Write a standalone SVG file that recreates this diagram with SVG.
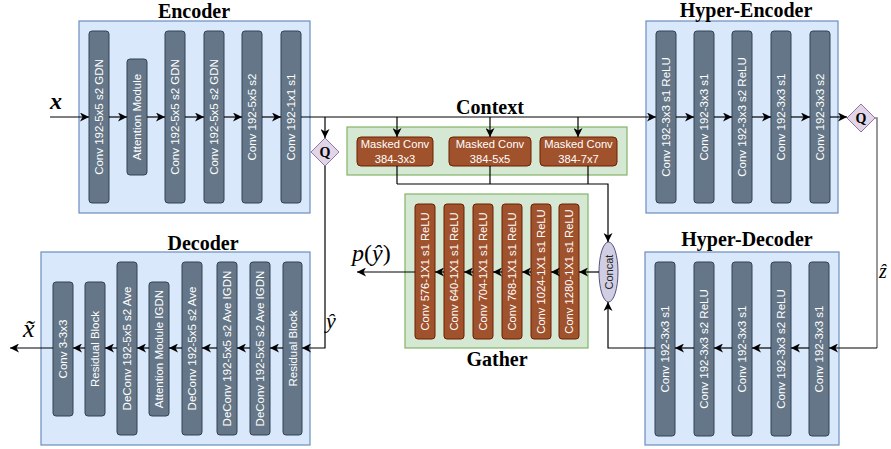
<svg xmlns="http://www.w3.org/2000/svg" width="891" height="449" viewBox="0 0 891 449">
  <style>
    .panel-blue { fill: #dae8fc; stroke: #6c8ebf; stroke-width: 1.2; }
    .panel-green { fill: #d5e8d4; stroke: #82b366; stroke-width: 1.2; }
    .blk { fill: #647687; stroke: #314354; stroke-width: 1; }
    .brn { fill: #a0522d; stroke: #6d1f00; stroke-width: 1; }
    .btxt { font-family: "Liberation Sans", Arial, sans-serif; font-size: 11.5px; fill: #ffffff; text-anchor: middle; dominant-baseline: central; }
    .gtxt { font-size: 11.2px; }
    .title { font-family: "Liberation Serif", "Times New Roman", serif; font-weight: bold; font-size: 20px; fill: #000; text-anchor: middle; }
    .math { font-family: "Liberation Serif", "Times New Roman", serif; font-style: italic; fill: #000; }
    .q { fill: #e1d5e7; stroke: #9673a6; stroke-width: 1; }
    .qtxt { font-family: "Liberation Serif", serif; font-weight: bold; font-size: 14px; text-anchor: middle; dominant-baseline: central; }
    .wire { fill: none; stroke: #000; stroke-width: 1.2; }
    .wire-g { fill: none; stroke: #7f7f7f; stroke-width: 1.6; }
    .arr { marker-end: url(#ah); }
  </style>
  <defs>
    <marker id="ah" markerUnits="userSpaceOnUse" markerWidth="10" markerHeight="9" refX="9" refY="4.5" orient="auto">
      <path d="M0,0 L9,4.5 L0,9 L2.5,4.5 z" fill="#000"/>
    </marker>
  </defs>

  <!-- Encoder -->
  <g id="encoder">
    <rect class="panel-blue" x="79" y="21" width="231" height="192"/>
    <text class="title" x="194" y="18">Encoder</text>
    <rect class="blk" x="89" y="31" width="20" height="172" rx="3"/>
    <text class="btxt" x="99" y="117" transform="rotate(-90 99 117)">Conv 192-5x5 s2 GDN</text>
    <rect class="blk" x="127" y="59" width="20" height="116" rx="3"/>
    <text class="btxt" x="137" y="117" transform="rotate(-90 137 117)">Attention Module</text>
    <rect class="blk" x="165" y="31" width="20" height="172" rx="3"/>
    <text class="btxt" x="175" y="117" transform="rotate(-90 175 117)">Conv 192-5x5 s2 GDN</text>
    <rect class="blk" x="204" y="31" width="20" height="172" rx="3"/>
    <text class="btxt" x="214" y="117" transform="rotate(-90 214 117)">Conv 192-5x5 s2 GDN</text>
    <rect class="blk" x="242" y="31" width="20" height="172" rx="3"/>
    <text class="btxt" x="252" y="117" transform="rotate(-90 252 117)">Conv 192-5x5 s2</text>
    <rect class="blk" x="281" y="31" width="20" height="172" rx="3"/>
    <text class="btxt" x="291" y="117" transform="rotate(-90 291 117)">Conv 192-1x1 s1</text>
  </g>

  <!-- Hyper-Encoder -->
  <g id="hyper-encoder">
    <rect class="panel-blue" x="646" y="21" width="192" height="192"/>
    <text class="title" x="746" y="17">Hyper-Encoder</text>
    <rect class="blk" x="656" y="31" width="20" height="172" rx="3"/>
    <text class="btxt" x="666" y="117" transform="rotate(-90 666 117)">Conv 192-3x3 s1 ReLU</text>
    <rect class="blk" x="694" y="31" width="20" height="172" rx="3"/>
    <text class="btxt" x="704" y="117" transform="rotate(-90 704 117)">Conv 192-3x3 s1</text>
    <rect class="blk" x="732" y="31" width="20" height="172" rx="3"/>
    <text class="btxt" x="742" y="117" transform="rotate(-90 742 117)">Conv 192-3x3 s2 ReLU</text>
    <rect class="blk" x="771" y="31" width="20" height="172" rx="3"/>
    <text class="btxt" x="781" y="117" transform="rotate(-90 781 117)">Conv 192-3x3 s1</text>
    <rect class="blk" x="810" y="31" width="20" height="172" rx="3"/>
    <text class="btxt" x="820" y="117" transform="rotate(-90 820 117)">Conv 192-3x3 s2</text>
  </g>

  <!-- Quantizers -->
  <g id="quant-y">
    <path class="q" d="M325,138 L339,152 L325,166 L311,152 z"/>
    <text class="qtxt" x="325" y="152">Q</text>
  </g>
  <g id="quant-z">
    <path class="q" d="M861,104 L875,118 L861,132 L847,118 z"/>
    <text class="qtxt" x="861" y="118">Q</text>
  </g>

  <!-- Context -->
  <g id="context">
    <rect class="panel-green" x="347" y="127" width="280" height="48"/>
    <text class="title" x="490" y="114">Context</text>
    <rect class="brn" x="357" y="137" width="76" height="29" rx="4"/>
    <text class="btxt gtxt" x="395" y="143.5">Masked Conv</text>
    <text class="btxt gtxt" x="395" y="158.5">384-3x3</text>
    <rect class="brn" x="449" y="137" width="82" height="29" rx="4"/>
    <text class="btxt gtxt" x="490" y="143.5">Masked Conv</text>
    <text class="btxt gtxt" x="490" y="158.5">384-5x5</text>
    <rect class="brn" x="540" y="137" width="77" height="29" rx="4"/>
    <text class="btxt gtxt" x="578.5" y="143.5">Masked Conv</text>
    <text class="btxt gtxt" x="578.5" y="158.5">384-7x7</text>
  </g>

  <!-- Gather -->
  <g id="gather">
    <rect class="panel-green" x="405" y="194" width="183" height="154"/>
    <text class="title" x="497" y="366">Gather</text>
    <rect class="brn" x="415" y="204" width="20" height="135" rx="3"/>
    <text class="btxt gtxt" x="425" y="271.5" transform="rotate(-90 425 271.5)">Conv 576-1X1 s1 ReLU</text>
    <rect class="brn" x="444" y="204" width="20" height="135" rx="3"/>
    <text class="btxt gtxt" x="454" y="271.5" transform="rotate(-90 454 271.5)">Conv 640-1X1 s1 ReLU</text>
    <rect class="brn" x="473" y="204" width="20" height="135" rx="3"/>
    <text class="btxt gtxt" x="483" y="271.5" transform="rotate(-90 483 271.5)">Conv 704-1X1 s1 ReLU</text>
    <rect class="brn" x="502" y="204" width="20" height="135" rx="3"/>
    <text class="btxt gtxt" x="512" y="271.5" transform="rotate(-90 512 271.5)">Conv 768-1X1 s1 ReLU</text>
    <rect class="brn" x="531" y="204" width="20" height="135" rx="3"/>
    <text class="btxt gtxt" x="541" y="271.5" transform="rotate(-90 541 271.5)">Conv 1024-1X1 s1 ReLU</text>
    <rect class="brn" x="559" y="204" width="20" height="135" rx="3"/>
    <text class="btxt gtxt" x="569" y="271.5" transform="rotate(-90 569 271.5)">Conv 1280-1X1 s1 ReLU</text>
  </g>

  <!-- Concat -->
  <g id="concat">
    <ellipse cx="608.5" cy="272" rx="9.5" ry="30" fill="#d0cee2" stroke="#56517e" stroke-width="1"/>
    <text x="608.5" y="272" transform="rotate(-90 608.5 272)" font-family="'Liberation Sans', Arial, sans-serif" font-size="11" fill="#222" text-anchor="middle" dominant-baseline="central">Concat</text>
  </g>

  <!-- Decoder -->
  <g id="decoder">
    <rect class="panel-blue" x="41" y="252" width="269" height="193"/>
    <text class="title" x="203" y="250">Decoder</text>
    <rect class="blk" x="53" y="282" width="20" height="134" rx="3"/>
    <text class="btxt" x="63" y="349" transform="rotate(-90 63 349)">Conv 3-3x3</text>
    <rect class="blk" x="85" y="282" width="20" height="134" rx="3"/>
    <text class="btxt" x="95" y="349" transform="rotate(-90 95 349)">Residual Block</text>
    <rect class="blk" x="117" y="262" width="20" height="173" rx="3"/>
    <text class="btxt" x="127" y="348.5" transform="rotate(-90 127 348.5)">DeConv 192-5x5 s2 Ave</text>
    <rect class="blk" x="149" y="282" width="20" height="134" rx="3"/>
    <text class="btxt" x="159" y="349" transform="rotate(-90 159 349)">Attention Module IGDN</text>
    <rect class="blk" x="182" y="262" width="20" height="173" rx="3"/>
    <text class="btxt" x="192" y="348.5" transform="rotate(-90 192 348.5)">DeConv 192-5x5 s2 Ave</text>
    <rect class="blk" x="217" y="262" width="20" height="173" rx="3"/>
    <text class="btxt" x="227" y="348.5" transform="rotate(-90 227 348.5)">DeConv 192-5x5 s2 Ave IGDN</text>
    <rect class="blk" x="250" y="262" width="20" height="173" rx="3"/>
    <text class="btxt" x="260" y="348.5" transform="rotate(-90 260 348.5)">DeConv 192-5x5 s2 Ave IGDN</text>
    <rect class="blk" x="283" y="262" width="19" height="173" rx="3"/>
    <text class="btxt" x="292.5" y="348.5" transform="rotate(-90 292.5 348.5)">Residual Block</text>
  </g>

  <!-- Hyper-Decoder -->
  <g id="hyper-decoder">
    <rect class="panel-blue" x="645" y="252" width="194" height="193"/>
    <text class="title" x="747" y="246">Hyper-Decoder</text>
    <rect class="blk" x="655" y="262" width="20" height="174" rx="3"/>
    <text class="btxt" x="665" y="349" transform="rotate(-90 665 349)">Conv 192-3x3 s1</text>
    <rect class="blk" x="694" y="262" width="20" height="174" rx="3"/>
    <text class="btxt" x="704" y="349" transform="rotate(-90 704 349)">Conv 192-3x3 s2 ReLU</text>
    <rect class="blk" x="732" y="262" width="20" height="174" rx="3"/>
    <text class="btxt" x="742" y="349" transform="rotate(-90 742 349)">Conv 192-3x3 s1</text>
    <rect class="blk" x="771" y="262" width="20" height="174" rx="3"/>
    <text class="btxt" x="781" y="349" transform="rotate(-90 781 349)">Conv 192-3x3 s2 ReLU</text>
    <rect class="blk" x="809" y="262" width="20" height="174" rx="3"/>
    <text class="btxt" x="819" y="349" transform="rotate(-90 819 349)">Conv 192-3x3 s1</text>
  </g>

  <!-- Connectors -->
  <g id="connectors">
    <!-- encoder chain -->
    <path class="wire arr" d="M50,117 H89"/>
    <path class="wire arr" d="M109,117 H127"/>
    <path class="wire arr" d="M147,117 H165"/>
    <path class="wire arr" d="M185,117 H204"/>
    <path class="wire arr" d="M224,117 H242"/>
    <path class="wire arr" d="M262,117 H281"/>
    <!-- latent to hyper-encoder -->
    <path class="wire arr" d="M301,117 H656"/>
    <path class="wire arr" d="M676,117 H694"/>
    <path class="wire arr" d="M714,117 H732"/>
    <path class="wire arr" d="M752,117 H771"/>
    <path class="wire arr" d="M791,117 H810"/>
    <path class="wire arr" d="M830,117 H847"/>
    <!-- latent to quantizer, then to decoder -->
    <path class="wire arr" d="M325,117 V138"/>
    <path class="wire arr" d="M325,166 V348 H302"/>
    <!-- decoder chain -->
    <path class="wire arr" d="M283,348 H270"/>
    <path class="wire arr" d="M250,348 H237"/>
    <path class="wire arr" d="M217,348 H202"/>
    <path class="wire arr" d="M182,348 H169"/>
    <path class="wire arr" d="M149,348 H137"/>
    <path class="wire arr" d="M117,348 H105"/>
    <path class="wire arr" d="M85,348 H73"/>
    <path class="wire arr" d="M53,348 H10"/>
    <!-- context inputs -->
    <path class="wire arr" d="M397,117 V137"/>
    <path class="wire arr" d="M490,117 V137"/>
    <path class="wire arr" d="M578,117 V137"/>
    <!-- context outputs to concat -->
    <path class="wire" d="M397,166 V184"/>
    <path class="wire" d="M490,166 V184"/>
    <path class="wire" d="M588,166 V184"/>
    <path class="wire arr" d="M397,184 H608 V242"/>
    <!-- hyper latent to hyper-decoder -->
    <path class="wire-g" d="M875,118 H877 V348"/>
    <path class="wire arr" d="M877,348 H829"/>
    <path class="wire arr" d="M809,348 H791"/>
    <path class="wire arr" d="M771,348 H752"/>
    <path class="wire arr" d="M732,348 H714"/>
    <path class="wire arr" d="M694,348 H675"/>
    <path class="wire arr" d="M655,348 H608 V302"/>
    <!-- gather chain -->
    <path class="wire arr" d="M599,272 H579"/>
    <path class="wire arr" d="M559,272 H551"/>
    <path class="wire arr" d="M531,272 H522"/>
    <path class="wire arr" d="M502,272 H493"/>
    <path class="wire arr" d="M473,272 H464"/>
    <path class="wire arr" d="M444,272 H435"/>
    <path class="wire arr" d="M415,272 H357"/>
  </g>

  <!-- Signal labels -->
  <g id="labels">
    <text class="math" x="50" y="109" font-size="24" font-weight="bold">x</text>
    <text class="math" x="326" y="328" font-size="22">ŷ</text>
    <text class="math" x="352" y="261" font-size="24">p<tspan font-style="normal">(</tspan>ŷ<tspan font-style="normal">)</tspan></text>
    <text class="math" x="23" y="337" font-size="26">x̃</text>
    <text class="math" x="879" y="278" font-size="20">ẑ</text>
  </g>
</svg>
